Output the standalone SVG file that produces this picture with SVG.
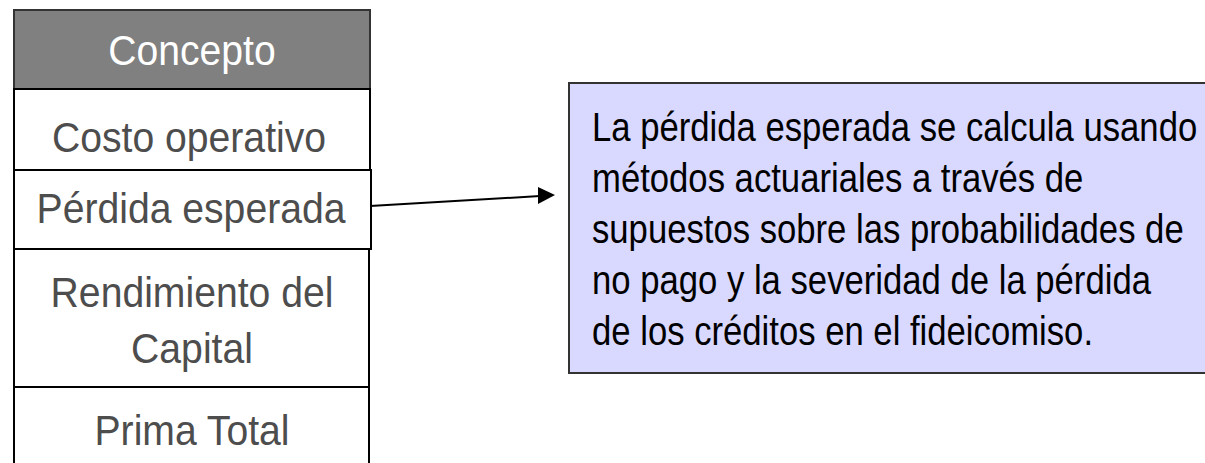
<svg xmlns="http://www.w3.org/2000/svg" width="1205" height="463" viewBox="0 0 1205 463">
<defs>
<style>
.cell{fill:#ffffff;stroke:#000000;stroke-width:2}
.hdr{fill:#808080;stroke:#333333;stroke-width:2}
.t{font-family:"Liberation Sans",Arial,sans-serif;font-size:43px;text-anchor:middle;fill:#4d4d4d}
.th{fill:#ffffff}
.bt{font-family:"Liberation Sans",Arial,sans-serif;font-size:40px;fill:#000000}
.conn{stroke:#000000;stroke-width:2;fill:none}
</style>
</defs>
<rect width="1205" height="463" fill="#ffffff"/>
<g id="header">
<rect class="hdr" x="14" y="10" width="356" height="79"/>
<text class="t th" transform="translate(192,65) scale(0.91,1)">Concepto</text>
</g>
<g id="costo">
<rect class="cell" x="14" y="89" width="356" height="81"/>
<text class="t" transform="translate(189,152) scale(0.91,1)">Costo operativo</text>
</g>
<g id="perdida">
<rect class="cell" x="14" y="170" width="357" height="79"/>
<text class="t" transform="translate(191,223) scale(0.91,1)">Pérdida esperada</text>
</g>
<g id="rendimiento">
<rect class="cell" x="14" y="249" width="355" height="138"/>
<text class="t" transform="translate(192,307) scale(0.91,1)">Rendimiento del</text>
<text class="t" transform="translate(192,363) scale(0.91,1)">Capital</text>
</g>
<g id="prima">
<rect class="cell" x="14" y="387" width="355" height="90"/>
<text class="t" transform="translate(192,445) scale(0.91,1)">Prima Total</text>
</g>
<g id="connectors">
<path class="conn" d="M370,206 L540,196"/>
<path d="M538,187 L555,195 L538,204 Z" fill="#000000"/>
</g>
<g id="nota">
<rect x="569" y="83" width="650" height="290" fill="#d9d9ff" stroke="#333333" stroke-width="2"/>
<g transform="translate(592,0) scale(0.867,1)">
<text class="bt" x="0" y="141">La pérdida esperada se calcula usando</text>
<text class="bt" x="0" y="192">métodos actuariales a través de</text>
<text class="bt" x="0" y="243">supuestos sobre las probabilidades de</text>
<text class="bt" x="0" y="294">no pago y la severidad de la pérdida</text>
<text class="bt" x="0" y="345">de los créditos en el fideicomiso.</text>
</g>
</g>
</svg>
